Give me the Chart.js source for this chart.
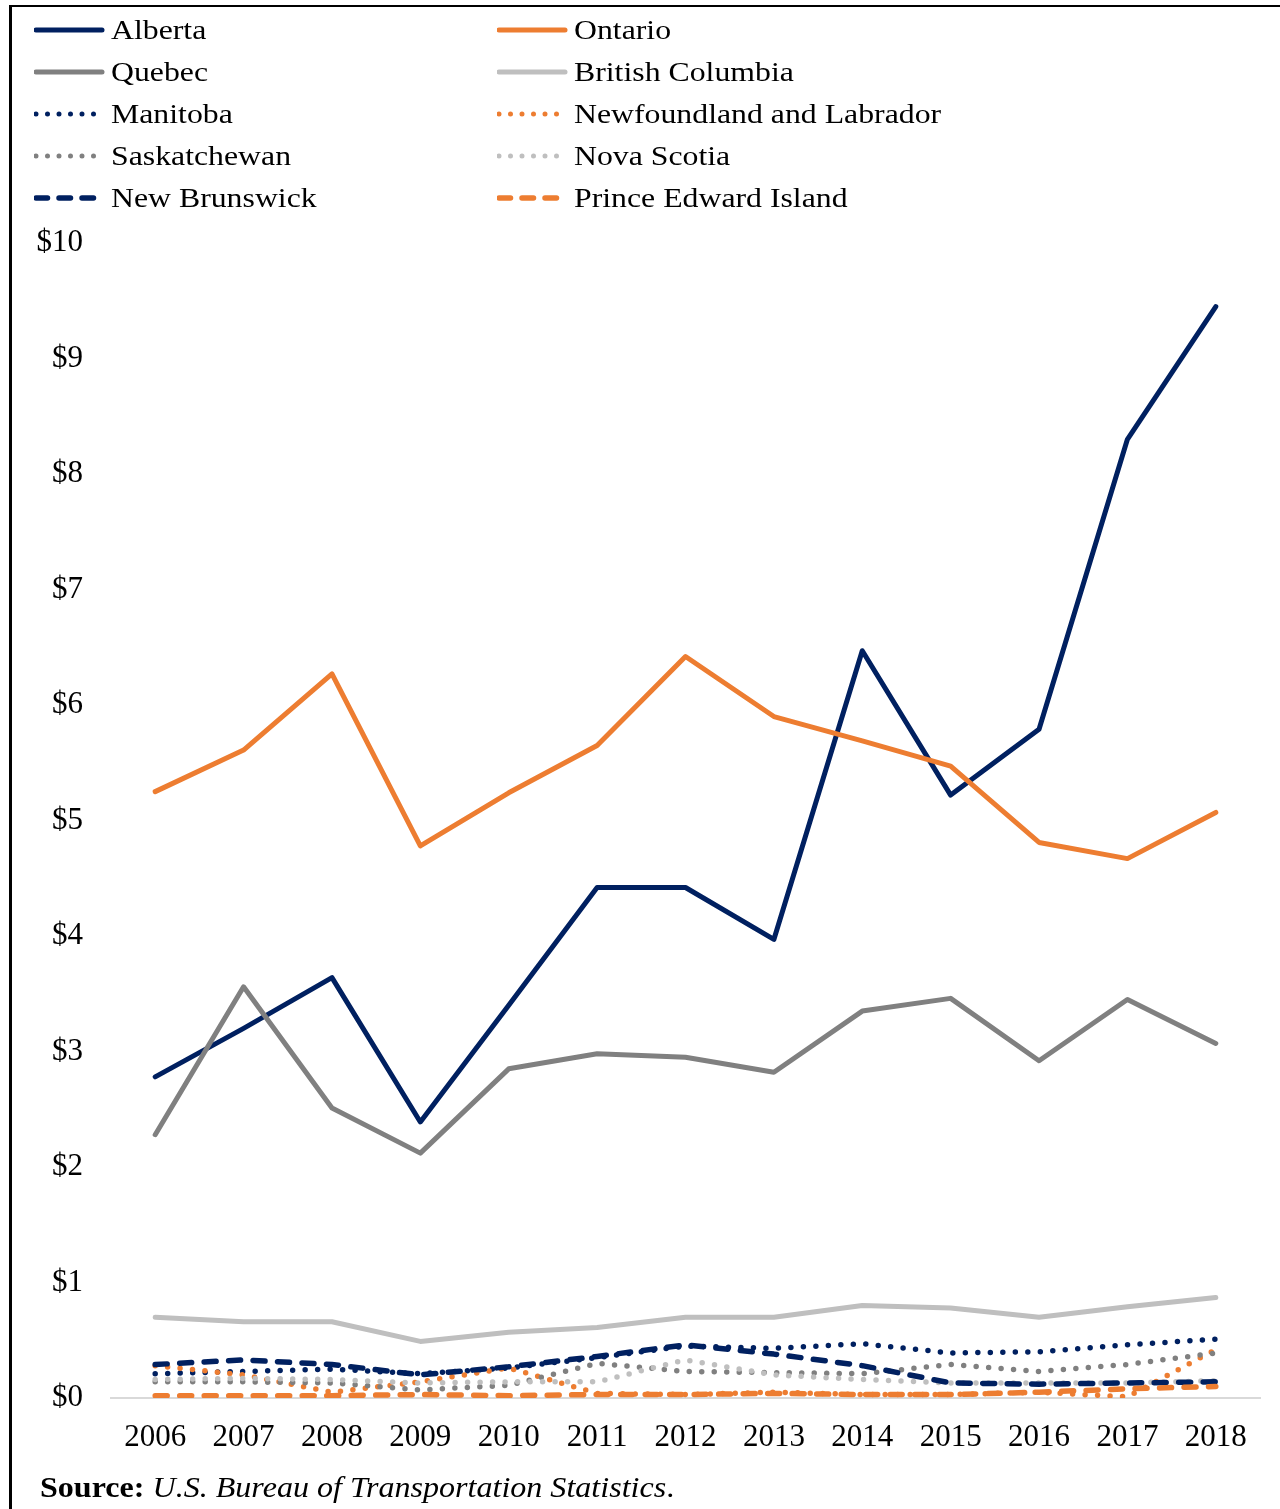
<!DOCTYPE html>
<html>
<head>
<meta charset="utf-8">
<script src="https://cdn.jsdelivr.net/npm/chart.js@4.4.1/dist/chart.umd.min.js"></script>
<style>
  html, body { margin: 0; padding: 0; background: #fff; }
  body { width: 1280px; height: 1509px; position: relative; overflow: hidden; font-family: "Liberation Serif", "Times New Roman", serif; }
  #wrap { position: absolute; left: 0; top: 0; width: 1280px; height: 1509px; }
  .frameL { position: absolute; left: 9px; top: 5px; width: 3px; height: 1504px; background: #000; }
  .frameT { position: absolute; left: 9px; top: 5px; width: 1271px; height: 2px; background: #000; }
  .leg { position: absolute; height: 42px; line-height: 42px; font-size: 28px; color: #000; white-space: nowrap; }
  .leg svg { position: absolute; left: 0; top: 0; }
  .leg span { position: absolute; display: inline-block; transform: scaleX(1.135); transform-origin: left center; }
  #source { position: absolute; left: 40px; top: 1467px; font-size: 28.5px; line-height: 42px; white-space: nowrap; transform: scaleX(1.125); transform-origin: left center; }
</style>
</head>
<body>
<div id="wrap"><canvas id="c" width="1280" height="1509"></canvas></div>
<div class="frameL"></div>
<div class="frameT"></div>
<div id="legend"></div>
<div id="source"><b>Source:</b> <i>U.S. Bureau of Transportation Statistics</i>.</div>
<script>
// ---- data ----
const years = ["2006","2007","2008","2009","2010","2011","2012","2013","2014","2015","2016","2017","2018"];
const yTicks = [0,1,2,3,4,5,6,7,8,9,10];
const alberta      = [2.78, 3.20, 3.64, 2.39, 3.40, 4.42, 4.42, 3.97, 6.47, 5.22, 5.79, 8.30, 9.45];
const ontario      = [5.25, 5.61, 6.27, 4.78, 5.24, 5.65, 6.42, 5.90, 5.69, 5.47, 4.81, 4.67, 5.07];
const quebec       = [2.28, 3.56, 2.51, 2.12, 2.85, 2.98, 2.95, 2.82, 3.35, 3.46, 2.92, 3.45, 3.07];
const britishColumbia = [0.70, 0.66, 0.66, 0.49, 0.57, 0.61, 0.70, 0.70, 0.80, 0.78, 0.70, 0.79, 0.87];
const manitoba     = [0.21, 0.23, 0.25, 0.21, 0.26, 0.35, 0.45, 0.43, 0.47, 0.39, 0.40, 0.46, 0.51];
const newfoundland = [0.28, 0.20, 0.05, 0.14, 0.26, 0.04, 0.03, 0.05, 0.03, 0.03, 0.05, 0.01, 0.42];
const saskatchewan = [0.14, 0.14, 0.13, 0.07, 0.11, 0.30, 0.23, 0.22, 0.21, 0.29, 0.23, 0.29, 0.39];
const novaScotia   = [0.16, 0.17, 0.16, 0.13, 0.14, 0.14, 0.33, 0.20, 0.16, 0.13, 0.13, 0.13, 0.15];
const newBrunswick = [0.29, 0.33, 0.29, 0.20, 0.27, 0.36, 0.46, 0.38, 0.28, 0.13, 0.12, 0.13, 0.14];
const pei          = [0.02, 0.02, 0.02, 0.03, 0.02, 0.03, 0.03, 0.04, 0.03, 0.03, 0.05, 0.08, 0.10];

const NAVY = "#002060", ORANGE = "#ED7D31", GRAY = "#808080", LGRAY = "#BFBFBF";
const SOLID = [], DOT = [0, 12.5], DASH = [12, 12.5];

const series = [
  {label: "Alberta", data: alberta, color: NAVY, dash: SOLID, w: 5},
  {label: "Ontario", data: ontario, color: ORANGE, dash: SOLID, w: 5},
  {label: "Quebec", data: quebec, color: GRAY, dash: SOLID, w: 5},
  {label: "British Columbia", data: britishColumbia, color: LGRAY, dash: SOLID, w: 5},
  {label: "Manitoba", data: manitoba, color: NAVY, dash: DOT, w: 5.5},
  {label: "Newfoundland and Labrador", data: newfoundland, color: ORANGE, dash: DOT, w: 5.5},
  {label: "Saskatchewan", data: saskatchewan, color: GRAY, dash: DOT, w: 5.5},
  {label: "Nova Scotia", data: novaScotia, color: LGRAY, dash: DOT, w: 5.5},
  {label: "New Brunswick", data: newBrunswick, color: NAVY, dash: DASH, w: 5.5},
  {label: "Prince Edward Island", data: pei, color: ORANGE, dash: DASH, w: 5.5}
];

// ---- HTML legend (two columns) ----
const legend = document.getElementById('legend');
series.forEach((s, i) => {
  const col = i % 2, row = Math.floor(i / 2);
  const cy = 30 + row * 42;
  const x0 = col === 0 ? 34 : 497;
  const div = document.createElement('div');
  div.className = 'leg';
  div.style.left = x0 + 'px';
  div.style.top = (cy - 21) + 'px';
  div.style.width = '480px';
  let dashAttr = '';
  let w = 5;
  if (s.dash === DOT) { dashAttr = 'stroke-dasharray="0 11.5"'; w = 5; }
  else if (s.dash === DASH) { dashAttr = 'stroke-dasharray="11.5 11.5"'; w = 5.5; }
  div.innerHTML = '<svg width="80" height="42"><line x1="2" y1="21" x2="68" y2="21" stroke="' + s.color +
    '" stroke-width="' + w + '" stroke-linecap="round" ' + dashAttr + '/></svg>' +
    '<span style="left:77px">' + s.label + '</span>';
  legend.appendChild(div);
});

// ---- chart ----
const ctx = document.getElementById('c').getContext('2d');
new Chart(ctx, {
  type: 'line',
  data: {
    labels: years,
    datasets: series.map((s, i) => ({
      label: s.label,
      data: s.data,
      borderColor: s.color,
      backgroundColor: s.color,
      borderWidth: s.w,
      borderDash: s.dash,
      borderCapStyle: 'round',
      borderJoinStyle: 'round',
      pointRadius: 0,
      pointHoverRadius: 0,
      tension: 0,
      fill: false,
      order: 20 - i
    }))
  },
  options: {
    responsive: false,
    animation: false,
    devicePixelRatio: 1,
    events: [],
    layout: { padding: { left: 0, right: 20, top: 243, bottom: 61 } },
    plugins: { legend: { display: false }, tooltip: { enabled: false }, title: { display: false } },
    scales: {
      x: {
        type: 'category',
        offset: true,
        grid: { display: false, drawTicks: false },
        border: { display: true, color: '#D9D9D9', width: 2 },
        ticks: { color: '#000', font: { family: 'Liberation Serif', size: 31 }, padding: 21, maxRotation: 0, autoSkip: false },
        afterFit: (scale) => { scale.height = 50; }
      },
      y: {
        min: 0, max: 10,
        afterBuildTicks: (scale) => { scale.ticks = yTicks.map(v => ({value: v})); },
        grid: { display: false, drawTicks: false },
        border: { display: false },
        ticks: { color: '#000', font: { family: 'Liberation Serif', size: 31 }, padding: 28,
                 callback: (v) => '$' + v },
        afterFit: (scale) => { scale.width = 111; }
      }
    }
  }
});
</script>
</body>
</html>
